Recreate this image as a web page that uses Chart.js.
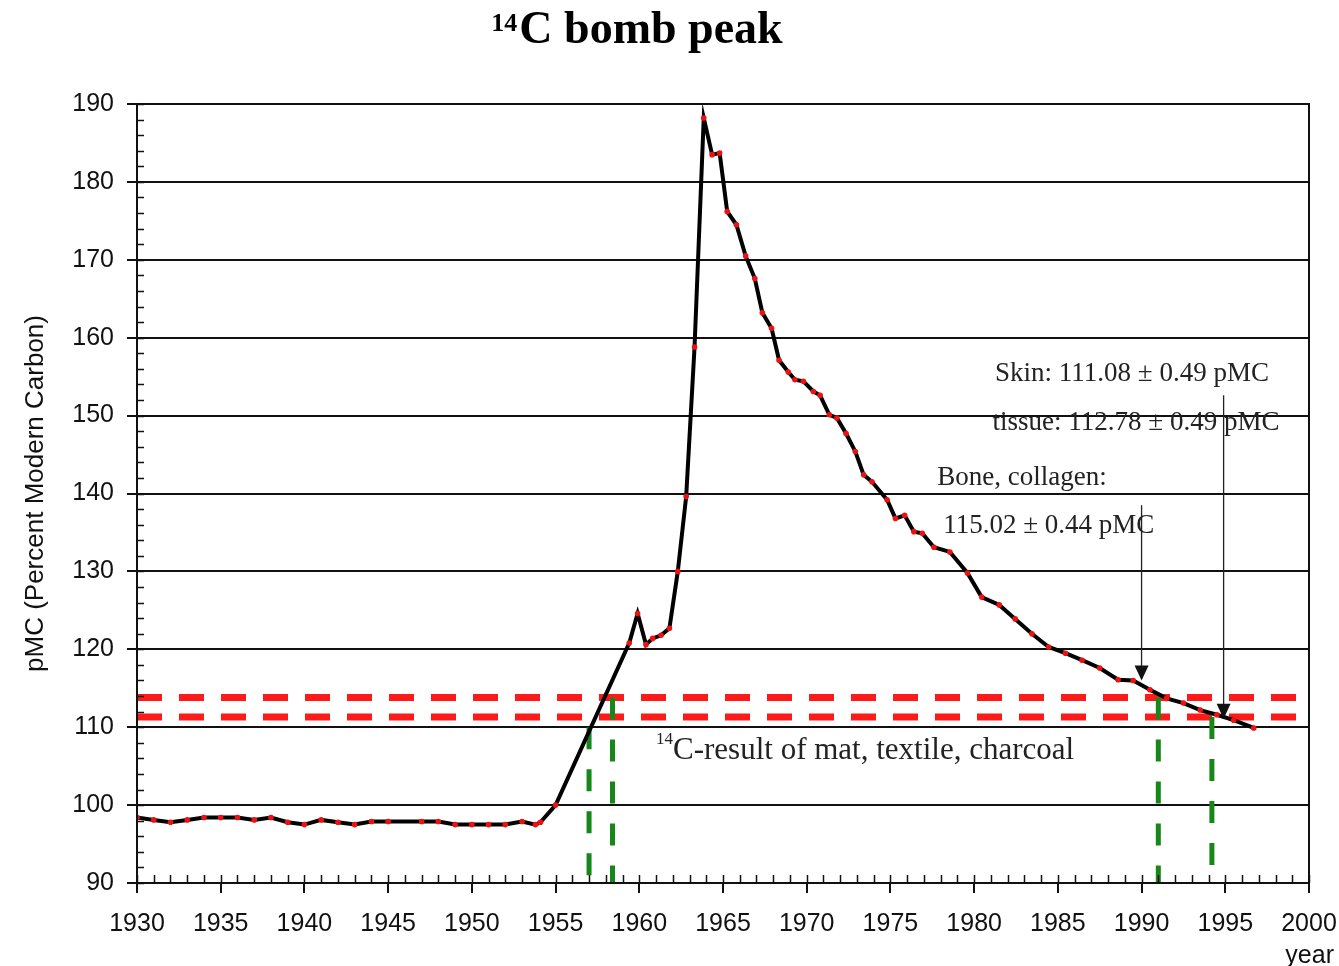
<!DOCTYPE html>
<html>
<head>
<meta charset="utf-8">
<title>14C bomb peak</title>
<script src="https://cdn.jsdelivr.net/npm/chart.js@4.4.1/dist/chart.umd.min.js"></script>
<style>
  html, body { margin: 0; padding: 0; background: #fff; }
  #wrap { width: 1339px; height: 966px; }
</style>
</head>
<body>
<div id="wrap"><canvas id="chart" width="1339" height="966"></canvas></div>
<script>
// bomb curve
const years = [1930, 1931, 1932, 1933, 1934, 1935, 1936, 1937, 1938, 1939,
    1940, 1941, 1942, 1943, 1944, 1945, 1947, 1948, 1949, 1950, 1951, 1952,
    1953, 1953.8, 1954.1, 1955, 1959.4, 1959.9, 1960.4, 1960.8, 1961.3, 1961.8,
    1962.3, 1962.8, 1963.3, 1963.85, 1964.35, 1964.8, 1965.25, 1965.8, 1966.35,
    1966.9, 1967.35, 1967.9, 1968.35, 1968.9, 1969.3, 1969.8, 1970.4, 1970.8,
    1971.35, 1971.8, 1972.35, 1972.9, 1973.4, 1973.9, 1974.8, 1975.3, 1975.85,
    1976.4, 1976.9, 1977.6, 1978.55, 1979.6, 1980.45, 1981.5, 1982.45, 1983.45,
    1984.45, 1985.45, 1986.45, 1987.5, 1988.6, 1989.5, 1990.5, 1991.5, 1992.5,
    1993.5, 1994.5, 1995.5, 1996.7]
const pmc = [98.4, 98.1, 97.8, 98.1, 98.4, 98.4, 98.4, 98.1, 98.4, 97.8,
    97.5, 98.1, 97.8, 97.5, 97.9, 97.9, 97.9, 97.9, 97.5, 97.5, 97.5, 97.5,
    97.9, 97.5, 97.8, 100, 120.8, 124.6, 120.6, 121.4, 121.8, 122.7,
    130.0, 139.6, 158.8, 188.2, 183.5, 183.7, 176.2, 174.5, 170.5,
    167.6, 163.2, 161.2, 157.1, 155.6, 154.6, 154.4, 153.1, 152.6,
    150.1, 149.7, 147.7, 145.4, 142.4, 141.5, 139.2, 136.8, 137.2,
    135.1, 134.9, 133.1, 132.5, 129.8, 126.7, 125.7, 123.9, 122.0,
    120.3, 119.5, 118.6, 117.6, 116.1, 116.0, 114.8, 113.7, 113.1,
    112.2, 111.6, 110.9, 109.9]

// result levels of mat / textile / charcoal (red dashed)
const resultLevels = [113.8, 111.3]
const resultSpan = [1930, 1999.3]

// dropped year lines (green dashed): year and top level
const dropYears = [1957.0, 1958.4, 1991.0, 1994.2]
const dropTops = [110.0, 113.8, 113.8, 111.3]

// arrows from labels down to the curve
const arrowYears = [1990.0, 1994.9]
const arrowFrom = [138.5, 152.6]
const arrowTo = [116.0, 111.1]

// labels: text, year (left edge), pMC (baseline)
const noteTexts = ['Skin: 111.08 \u00b1 0.49 pMC', 'tissue: 112.78 \u00b1 0.49 pMC',
    'Bone, collagen:', '115.02 \u00b1 0.44 pMC']
const noteYears = [1981.25, 1981.1, 1977.8, 1978.15]
const notePmc = [154.4, 148.1, 141.1, 134.9]

const ink = '#111'
const sans = '"Liberation Sans", Arial, sans-serif'
const serif = '"Liberation Serif", "Times New Roman", serif'

const decor = {
    id: 'decor',
    afterDraw(chart) {
        const { ctx, chartArea: a, scales: { x, y } } = chart
        ctx.save()

        // frame
        ctx.strokeStyle = ink
        ctx.lineWidth = 2
        ctx.strokeRect(a.left, a.top, a.right - a.left, a.bottom - a.top)

        // minor ticks, inside the plot
        ctx.lineWidth = 1.5
        ctx.beginPath()
        for (let t = 1930; t <= 2000; t++) {
            const px = Math.round(x.getPixelForValue(t)) + 0.5
            ctx.moveTo(px, a.bottom)
            ctx.lineTo(px, a.bottom - 8)
        }
        for (let v = 90; v <= 190; v += 2) {
            const py = Math.round(y.getPixelForValue(v)) + 0.5
            ctx.moveTo(a.left, py)
            ctx.lineTo(a.left + 7, py)
        }
        ctx.stroke()

        // arrows
        ctx.strokeStyle = '#222'
        ctx.fillStyle = '#111'
        ctx.lineWidth = 1.3
        arrowYears.forEach((t, i) => {
            const px = x.getPixelForValue(t)
            const y0 = y.getPixelForValue(arrowFrom[i])
            const y1 = y.getPixelForValue(arrowTo[i])
            ctx.beginPath()
            ctx.moveTo(px, y0)
            ctx.lineTo(px, y1 - 12)
            ctx.stroke()
            ctx.beginPath()
            ctx.moveTo(px - 7, y1 - 15)
            ctx.lineTo(px + 7, y1 - 15)
            ctx.lineTo(px, y1)
            ctx.closePath()
            ctx.fill()
        })

        // notes
        ctx.fillStyle = '#222'
        ctx.textBaseline = 'alphabetic'
        ctx.textAlign = 'left'
        ctx.font = '27px ' + serif
        noteTexts.forEach((s, i) => {
            ctx.fillText(s, x.getPixelForValue(noteYears[i]), y.getPixelForValue(notePmc[i]))
        })

        // 14C-result label
        const rx = x.getPixelForValue(1961.0)
        const ry = y.getPixelForValue(105.9)
        ctx.font = '17px ' + serif
        ctx.fillText('14', rx, ry - 15)
        ctx.font = '31px ' + serif
        ctx.fillText('C-result of mat, textile, charcoal', rx + 17, ry)

        // title
        ctx.fillStyle = '#000'
        ctx.font = 'bold 46px ' + serif
        const w1 = ctx.measureText('C bomb peak').width
        ctx.font = 'bold 26px ' + serif
        const w0 = ctx.measureText('14').width
        const tx = 637 - (w0 + 2 + w1) / 2
        ctx.fillText('14', tx, 31)
        ctx.font = 'bold 46px ' + serif
        ctx.fillText('C bomb peak', tx + w0 + 2, 43)

        // x axis name
        ctx.fillStyle = ink
        ctx.font = '25px ' + sans
        ctx.textAlign = 'right'
        ctx.fillText('year', 1334, 963)

        ctx.restore()
    },
}

const datasets = [
    {
        data: years.map((t, i) => ({ x: t, y: pmc[i] })),
        borderColor: '#000',
        borderWidth: 4,
        pointRadius: 2.8,
        pointBackgroundColor: '#ee1111',
        pointBorderWidth: 0,
        tension: 0,
    },
]
dropYears.forEach((t, i) => {
    datasets.push({
        data: [{ x: t, y: dropTops[i] }, { x: t, y: 90 }],
        borderColor: '#17871a',
        borderWidth: 5,
        borderDash: [22, 20],
        pointRadius: 0,
    })
})
resultLevels.forEach(v => {
    datasets.push({
        data: [{ x: resultSpan[0], y: v }, { x: resultSpan[1], y: v }],
        borderColor: '#ff1a1a',
        borderWidth: 7,
        borderDash: [25, 17],
        pointRadius: 0,
    })
})

const chart = new Chart('chart', {
    type: 'line',
    data: { datasets },
    options: {
        responsive: false,
        animation: false,
        layout: { padding: { top: 104, right: 30, left: 0, bottom: 0 } },
        plugins: { legend: { display: false }, tooltip: { enabled: false } },
        scales: {
            x: {
                type: 'linear',
                min: 1930,
                max: 2000,
                afterFit(s) {
                    s.height = 83
                    s.paddingLeft = 0
                    s.paddingRight = 0
                },
                grid: { drawOnChartArea: false, tickLength: 10, color: ink, lineWidth: 2 },
                border: { color: ink, width: 2 },
                ticks: {
                    stepSize: 5,
                    padding: 16,
                    maxRotation: 0,
                    autoSkip: false,
                    color: ink,
                    font: { family: sans, size: 25 },
                    callback: v => String(v),
                },
            },
            y: {
                min: 90,
                max: 190,
                afterFit(s) { s.width = 137 },
                grid: { tickLength: 10, color: ink, lineWidth: 2 },
                border: { color: ink, width: 2 },
                ticks: {
                    stepSize: 10,
                    padding: 13,
                    color: ink,
                    font: { family: sans, size: 25 },
                },
                title: {
                    display: true,
                    text: 'pMC (Percent Modern Carbon)',
                    color: ink,
                    font: { family: sans, size: 26 },
                    padding: { top: 20 },
                },
            },
        },
    },
    plugins: [decor],
})
</script>
</body>
</html>
